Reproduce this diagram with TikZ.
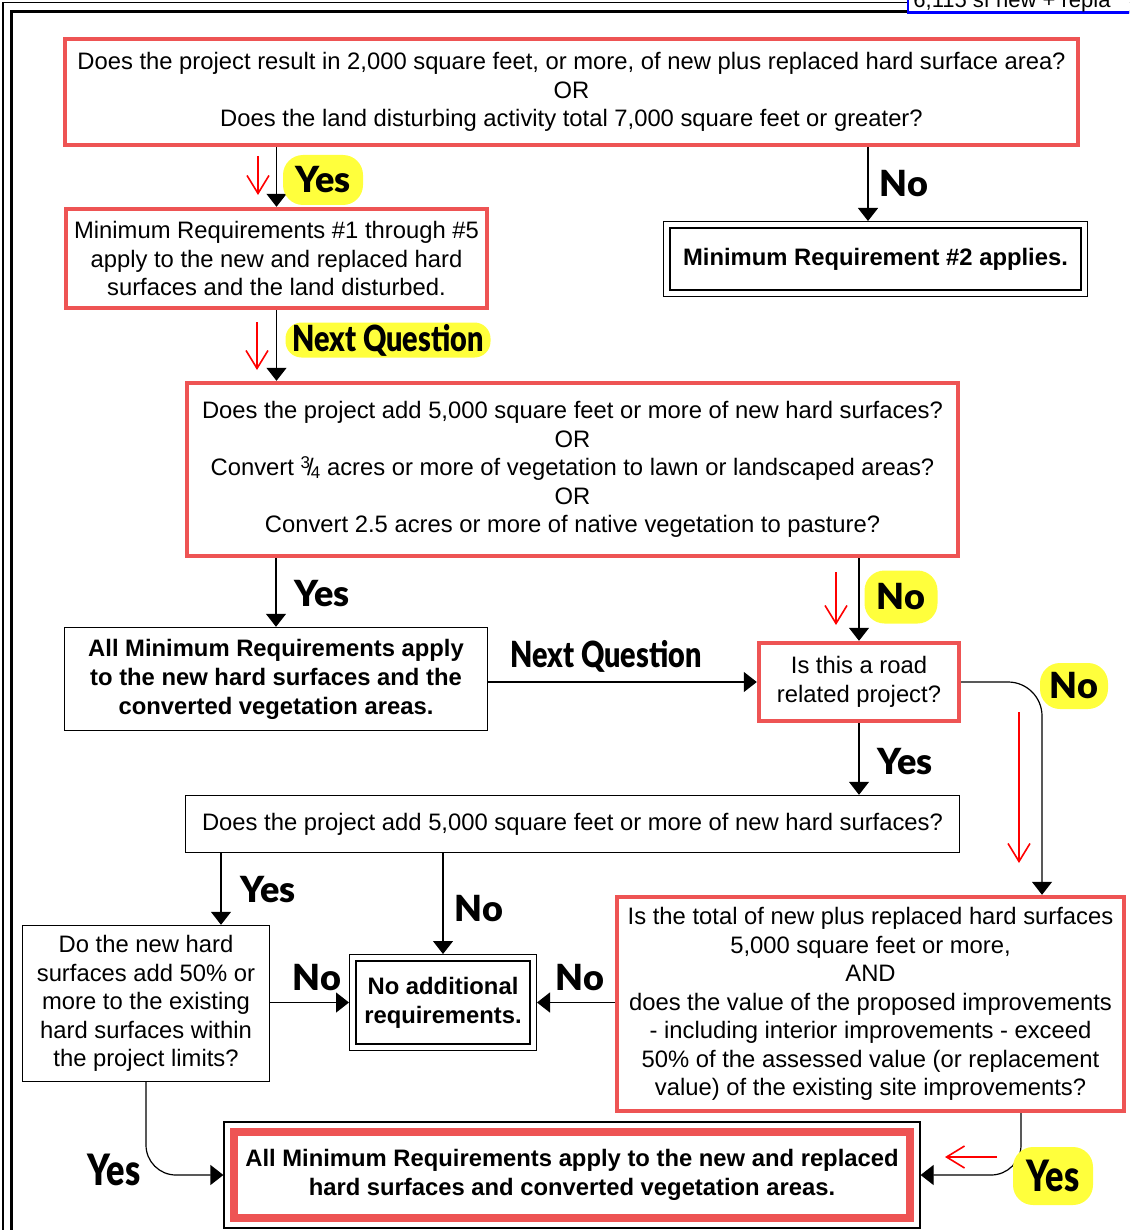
\documentclass[tikz,border=0pt]{standalone}
\usepackage{fontspec}
\setmainfont{Liberation Sans}
\newfontfamily\signfont{Lato Black}
\usetikzlibrary{arrows.meta,positioning,fit}
\definecolor{boxred}{RGB}{238,84,84}
\definecolor{signyellow}{RGB}{255,255,60}
\newcommand{\threequarter}{\raisebox{0.55ex}{\fontsize{8.5}{8.5}\selectfont 3}\kern-0.12em/\kern-0.12em\raisebox{-0.25ex}{\fontsize{8.5}{8.5}\selectfont 4}}
\tikzstyle{block} = [rectangle, draw=black, line width=0.7pt, align=center, inner sep=0pt, font=\fontsize{11.9}{14.25}\selectfont]
\tikzstyle{blockr} = [block, draw=boxred, line width=2.2pt]
\tikzstyle{block2} = [block, double, double distance=2.6pt, line width=0.6pt, outer sep=1.9pt]
\tikzstyle{boldtext} = [font=\bfseries\fontsize{11.9}{14.5}\selectfont]
\tikzstyle{line} = [draw, line width=0.6pt, -{Triangle[width=10pt,length=6.5pt]}]
\tikzstyle{redline} = [draw=red, line width=0.8pt, -{Straight Barb[length=9pt,width=11pt]}]
\tikzstyle{sign} = [inner sep=0pt, font=\signfont\fontsize{18}{18}\selectfont]
\tikzstyle{signy} = [sign, fill=signyellow, rounded corners=10pt]

\begin{document}
\begin{tikzpicture}[x=0.5pt, y=-0.5pt]
    \clip (0,0) rectangle (1129,1230);
    % page frame and clipped note
    \draw[line width=0.75pt] (3,2.5) rectangle (1300,1400);
    \draw[line width=1.5pt] (11,11.5) rectangle (1290,1390);
    \draw[blue, line width=1.25pt, fill=white] (908,-30) rectangle (1300,12.5);
    \node[anchor=base west, inner sep=0pt, font=\fontsize{11}{11}\selectfont] (sfnote) at (913,7.5) {6,115 sf new + repla};

    \node [blockr, minimum width=506.5pt, minimum height=53pt] (q1) at (571.5,92) {Does the project result in 2,000 square feet, or more, of new plus replaced hard surface area?\\ OR\\ Does the land disturbing activity total 7,000 square feet or greater?};
    \node [blockr, minimum width=210.5pt, minimum height=49.5pt] (mr15) at (276.5,258.5) {Minimum Requirements \#1 through \#5\\ apply to the new and replaced hard\\ surfaces and the land disturbed.};
    \node [block2, boldtext, minimum width=208.7pt, minimum height=34.2pt] (mr2) at (875.5,259) {Minimum Requirement \#2 applies.};
    \node [blockr, minimum width=385.5pt, minimum height=86.5pt] (q2) at (572.5,469.5) {Does the project add 5,000 square feet or more of new hard surfaces?\\ OR\\ Convert \threequarter{} acres or more of vegetation to lawn or landscaped areas?\\ OR\\ Convert 2.5 acres or more of native vegetation to pasture?};
    \node [block, boldtext, minimum width=211.5pt, minimum height=51.5pt] (allmin1) at (276,679) {All Minimum Requirements apply\\ to the new hard surfaces and the\\ converted vegetation areas.};
    \node [blockr, minimum width=100pt, minimum height=39pt] (road) at (859,682) {Is this a road\\ related project?};
    \node [block, minimum width=387pt, minimum height=28.5pt] (q3) at (572.5,824) {Does the project add 5,000 square feet or more of new hard surfaces?};
    \node [block, minimum width=123.5pt, minimum height=78pt] (fifty) at (146,1003.5) {Do the new hard\\ surfaces add 50\% or\\ more to the existing\\ hard surfaces within\\ the project limits?};
    \node [block2, boldtext, minimum width=90.2pt, minimum height=44.7pt] (noadd) at (443,1002.5) {No additional\\ requirements.};
    \node [blockr, minimum width=253.5pt, minimum height=107pt] (total) at (870.5,1004) {Is the total of new plus replaced hard surfaces\\ 5,000 square feet or more,\\ AND\\ does the value of the proposed improvements\\ - including interior improvements - exceed\\ 50\% of the assessed value (or replacement\\ value) of the existing site improvements?};
    \node [blockr, boldtext, line width=4pt, minimum width=338pt, minimum height=43pt] (final) at (572,1175) {All Minimum Requirements apply to the new and replaced\\ hard surfaces and converted vegetation areas.};
    \node [draw, line width=0.6pt, inner sep=3pt, fit=(final)] (finalbox) {};

    \path [line] (q1.south -| mr15.north) -- (mr15.north);
    \path [line] ([xshift=-3.75pt]mr2.north |- q1.south) -- ([xshift=-3.75pt]mr2.north);
    \path [line] (mr15.south) -- (mr15.south |- q2.north);
    \path [line] (q2.south -| allmin1.north) -- (allmin1.north);
    \path [line] (q2.south -| road.north) -- (road.north);
    \path [line] (road.west -| allmin1.east) -- (road.west);
    \path [line] (road.south) -- (road.south |- q3.north);
    \path [line, rounded corners=17pt] (road.east) -| ([xshift=85.75pt]total.north);
    \path [line] ([xshift=37.5pt]fifty.north |- q3.south) -- ([xshift=37.5pt]fifty.north);
    \path [line] (noadd.north |- q3.south) -- (noadd.north);
    \path [line] (fifty.east |- noadd.west) -- (noadd.west);
    \path [line] (total.west |- noadd.east) -- (noadd.east);
    \path [line, rounded corners=15pt] (fifty.south) |- (finalbox.west);
    \path [line, rounded corners=15pt] ([xshift=75.25pt]total.south) |- (finalbox.east);

    \node [signy, minimum width=40pt, minimum height=25pt] (yes1) at (323,180) {Yes};
    \node [sign] (no1) at (904,184) {No};
    \node [signy, minimum width=102.5pt, minimum height=17.5pt, rounded corners=8pt] (next1) at (388,340) {\scalebox{0.8}[1]{Next Question}};
    \node [sign] (yes2) at (322,594) {Yes};
    \node [signy, minimum width=36.5pt, minimum height=26.5pt] (no2) at (901,597) {No};
    \node [sign] (next2) at (606,656) {\scalebox{0.8}[1]{Next Question}};
    \node [signy, minimum width=34pt, minimum height=23pt] (no3) at (1074,686) {No};
    \node [sign] (yes3) at (905,762) {Yes};
    \node [sign] (yes4) at (268,890) {Yes};
    \node [sign] (no4) at (479,909) {No};
    \node [sign] (no5) at (317,978) {No};
    \node [sign] (no6) at (580,978) {No};
    \node [sign] (yes5) at (114,1170) {\scalebox{0.95}[1.2]{Yes}};
    \node [signy, minimum width=40pt, minimum height=29pt] (yes6) at (1053,1176) {\scalebox{0.95}[1.2]{Yes}};

    \coordinate (r1) at (258,156);
    \coordinate (r2) at (257,322);
    \coordinate (r3) at (836,572);
    \coordinate (r4) at (1019,712);
    \coordinate (r5) at (997,1157);
    \path [redline] (r1) -- ++(0,39);
    \path [redline] (r2) -- ++(0,48);
    \path [redline] (r3) -- ++(0,53);
    \path [redline] (r4) -- ++(0,151);
    \path [redline] (r5) -- ++(-52,0);
\end{tikzpicture}
\end{document}
